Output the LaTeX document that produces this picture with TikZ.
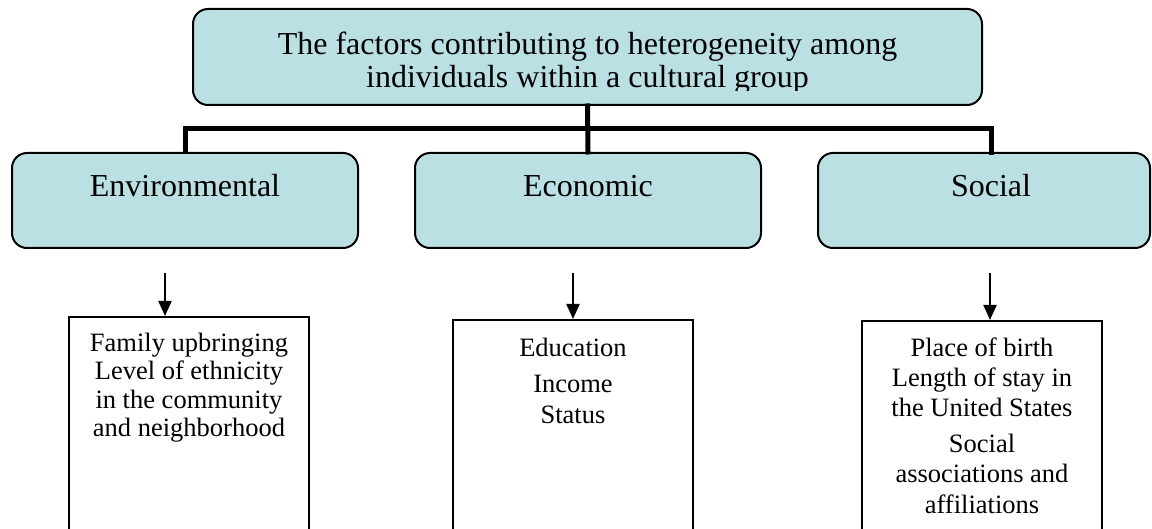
\documentclass[tikz,border=0pt]{standalone}
\usepackage{fontspec}
\setmainfont{Liberation Serif}
\usetikzlibrary{arrows.meta}
\definecolor{boxfill}{RGB}{186,224,228}
\tikzset{
  roundbox/.style={draw=black, line width=2pt, fill=boxfill, rounded corners=15pt,
    inner sep=0pt, minimum width=346pt, minimum height=95pt},
  listbox/.style={draw=black, line width=2pt, fill=white, inner sep=0pt,
    minimum width=240pt, minimum height=260pt},
  headtext/.style={anchor=base, inner sep=0pt, font=\fontsize{32}{33}\selectfont},
  listtext/.style={anchor=base, inner sep=0pt, align=center},
  bar/.style={line width=5pt, line join=miter, line cap=rect},
  down/.style={line width=2pt, -{Triangle[length=15pt,width=13pt]}}
}
\begin{document}
\begin{tikzpicture}[x=1pt, y=-1pt]
\useasboundingbox (0,0) rectangle (1152,529);
\clip (0,0) rectangle (1152,529);

% title box; the text is cut off just below its last baseline
\node[roundbox, minimum width=789pt, minimum height=96pt] (top) at (587.5,57) {};
\begin{scope}
  \clip (193,0) rectangle (982,91);
  \node[headtext, align=center] (title) at (587.5,88)
    {The factors contributing to heterogeneity among\\individuals within a cultural group};
\end{scope}

% three factor boxes
\node[roundbox] (env) at (185,200.5) {};
\node[roundbox] (econ) at (588,200.5) {};
\node[roundbox, minimum width=332pt] (soc) at (984,200.5) {};
\node[headtext] (envt) at (185,197) {Environmental};
\node[headtext] (econt) at (588,197) {Economic};
\node[headtext] (soct) at (991,197) {Social};

% tree connectors
\coordinate (hub) at (588,129);
\coordinate (socdrop) at (991,153);
\draw[bar] (top.south) -- (econ.north);
\draw[bar] (env.north) |- (hub) -| (socdrop);

% detail boxes
\node[listbox] (envl) at (189,447) {};
\node[listbox] (econl) at (573,450) {};
\node[listbox] (socl) at (982,451) {};

% list texts (anchored at the baseline of their last line)
\node[listtext, font=\fontsize{26.5}{28.3}\selectfont] (envlt) at (189,436.4)
  {Family upbringing\\Level of ethnicity\\in the community\\and neighborhood};
\node[listtext, font=\fontsize{26.5}{30.5}\selectfont] (econlt) at (573,423.2)
  {Education\\[5.5pt]Income\\Status};
\node[listtext, font=\fontsize{26.5}{30.3}\selectfont] (soclt) at (982,513)
  {Place of birth\\Length of stay in\\the United States\\[5.5pt]Social\\associations and\\affiliations};

% arrows into the detail boxes
\coordinate (a1) at (165,273);
\coordinate (a2) at (573,273);
\coordinate (a3) at (990,273);
\draw[down] (a1) -- (a1 |- envl.north);
\draw[down] (a2) -- (a2 |- econl.north);
\draw[down] (a3) -- (a3 |- socl.north);
\end{tikzpicture}
\end{document}
